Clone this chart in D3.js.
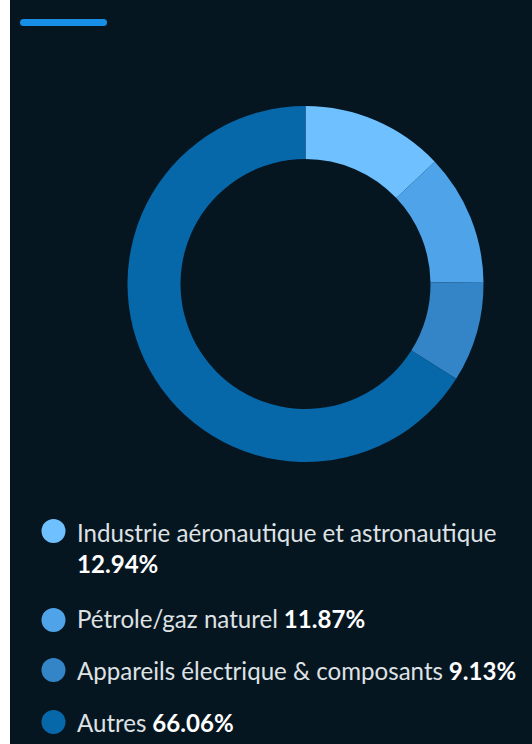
<!DOCTYPE html>
<html>
<head>
<meta charset="utf-8">
<script src="https://cdn.jsdelivr.net/npm/d3@7"></script>
<style>
html,body{margin:0;padding:0;background:#ffffff;}
svg{display:block;}
</style>
</head>
<body>
<svg id="chart" width="532" height="744"></svg>
<script>
const categories = ["Industrie aéronautique et astronautique", "Pétrole/gaz naturel", "Appareils électrique & composants", "Autres"];
const values = [12.94, 11.87, 9.13, 66.06];
const valueLabels = ["12.94%", "11.87%", "9.13%", "66.06%"];
const colors = ["#6ec1fe", "#4fa3e8", "#3385c7", "#0668a9"];

const W = 532, H = 744;
const svg = d3.select("#chart");
const FONT = "'Source Sans Pro', Lato, 'Noto Sans', sans-serif";

svg.append("rect").attr("x", 10).attr("y", 0).attr("width", W - 10).attr("height", H).attr("fill", "#061621");
svg.append("rect").attr("x", 20).attr("y", 19).attr("width", 87).attr("height", 7).attr("rx", 3.5).attr("fill", "#178fe7");

const cx = 305.5, cy = 284, rOuter = 178, rInner = 125;
const pie = d3.pie().sort(null).value(d => d)(values);
const arc = d3.arc().innerRadius(rInner).outerRadius(rOuter);
svg.append("g").attr("transform", `translate(${cx},${cy})`)
  .selectAll("path").data(pie).join("path")
  .attr("d", arc).attr("fill", (d, i) => colors[i]);

// legend
const leg = svg.append("g").attr("font-family", FONT).attr("font-size", 24.1);
const rows = [
  {dotY: 531, lines: [[{t: categories[0], b: false}], [{t: valueLabels[0], b: true}]], baselines: [542, 573]},
  {dotY: 620, lines: [[{t: categories[1], b: false}, {t: valueLabels[1], b: true}]], baselines: [628]},
  {dotY: 670, lines: [[{t: categories[2], b: false}, {t: valueLabels[2], b: true}]], baselines: [680]},
  {dotY: 722, lines: [[{t: categories[3], b: false}, {t: valueLabels[3], b: true}]], baselines: [732]}
];
rows.forEach((r, i) => {
  leg.append("circle").attr("cx", 53.5).attr("cy", r.dotY).attr("r", 12).attr("fill", colors[i]);
  r.lines.forEach((ln, j) => {
    const t = leg.append("text").attr("x", 77).attr("y", r.baselines[j]);
    ln.forEach((s, k) => {
      t.append("tspan").text((k > 0 ? " " : "") + s.t)
        .attr("font-weight", s.b ? 700 : 400)
        .attr("fill", s.b ? "#ffffff" : "#dfe2e4");
    });
  });
});
</script>
</body>
</html>
